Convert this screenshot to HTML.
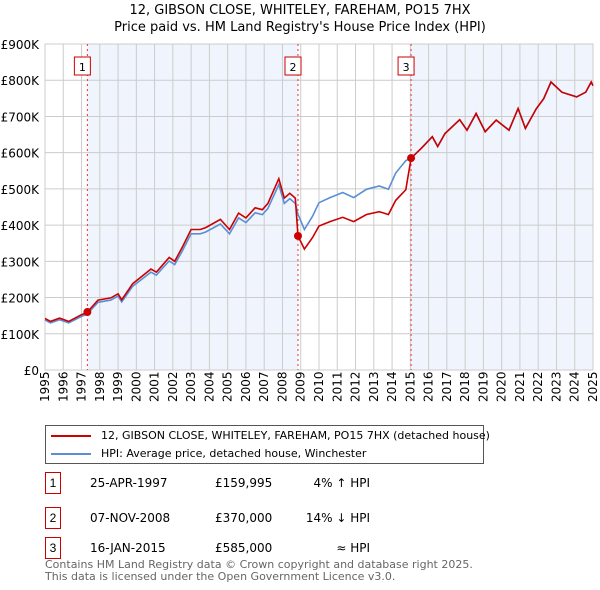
<!DOCTYPE html>
<html><head><meta charset="utf-8"><style>
body{margin:0;background:#fff;font-family:"Liberation Sans","DejaVu Sans",sans-serif;}
#wrap{position:relative;width:600px;height:590px;overflow:hidden;}
svg text{font-family:"DejaVu Sans","Liberation Sans",sans-serif;}
.row{position:absolute;left:45px;font-size:12px;color:#000;font-family:"DejaVu Sans",sans-serif;}
.num{position:absolute;left:45px;width:14px;height:20px;border:1px solid #c00;text-align:center;line-height:20px;font-size:12px;}
</style></head><body>
<div id="wrap">
<svg id="chart" width="600" height="420" style="position:absolute;left:0;top:0">
<text x="300" y="14" text-anchor="middle" font-size="13">12, GIBSON CLOSE, WHITELEY, FAREHAM, PO15 7HX</text>
<text x="300" y="31" text-anchor="middle" font-size="13">Price paid vs. HM Land Registry's House Price Index (HPI)</text>
<g id="g"></g>
</svg>
<div style="position:absolute;left:45px;top:425px;width:437px;height:37px;border:1px solid #555;font-family:'DejaVu Sans',sans-serif;font-size:11px;">
<div style="position:absolute;left:5px;top:3px;white-space:nowrap"><span style="display:inline-block;width:40px;height:2px;background:#c00;vertical-align:middle;margin-right:10px"></span>12, GIBSON CLOSE, WHITELEY, FAREHAM, PO15 7HX (detached house)</div>
<div style="position:absolute;left:5px;top:21px;white-space:nowrap"><span style="display:inline-block;width:40px;height:2px;background:#5b8fd4;vertical-align:middle;margin-right:10px"></span>HPI: Average price, detached house, Winchester</div>
</div>
<div id="tbl"></div>
<div style="position:absolute;left:45px;top:559px;font-size:11px;color:#666;line-height:12px;font-family:'DejaVu Sans',sans-serif">Contains HM Land Registry data © Crown copyright and database right 2025.<br>This data is licensed under the Open Government Licence v3.0.</div>
</div>
<script>
const hpiYears=[1995,1995.3,1995.8,1996.3,1997,1997.3,1997.9,1998.6,1999,1999.2,1999.8,2000.8,2001.1,2001.4,2001.8,2002.1,2002.5,2003,2003.5,2003.8,2004.6,2005.1,2005.6,2006,2006.5,2006.9,2007.2,2007.8,2008.1,2008.4,2008.7,2008.85,2009.2,2009.65,2010,2010.6,2011.3,2011.9,2012.6,2013.3,2013.8,2014.2,2014.75,2015.04,2015.6,2016.2,2016.5,2016.9,2017.7,2018.1,2018.6,2019.1,2019.7,2020.4,2020.9,2021.3,2021.9,2022.3,2022.7,2023.3,2024.1,2024.6,2024.9,2025];
const hpiValues=[138,130,139,130,148,154,187,193,204,188,231,270,262,279,301,291,327,376,376,381,403,376,420,407,434,429,446,512,460,473,460,430,388,425,462,476,490,476,499,508,499,544,578,585,612,644,617,653,691,662,708,658,690,662,722,667,722,749,795,767,754,767,795,785];
const saleYears=[1997.32,2008.85,2015.04];
const salePrices=[159995,370000,585000];
const saleDates=["25-APR-1997","07-NOV-2008","16-JAN-2015"];
const saleLabels=["£159,995","£370,000","£585,000"];
const saleRel=["4% ↑ HPI","14% ↓ HPI","≈ HPI"];
const yTicks=[0,100,200,300,400,500,600,700,800,900];
const yLabels=["£0","£100K","£200K","£300K","£400K","£500K","£600K","£700K","£800K","£900K"];
const L=45,R=593,T=44,B=370;
const X=y=>L+(y-1995)/30*(R-L);
const Y=v=>B-v/900*(B-T);
const g=document.getElementById('g');
const NS='http://www.w3.org/2000/svg';
function mk(t,a){const e=document.createElementNS(NS,t);for(const k in a)e.setAttribute(k,a[k]);g.appendChild(e);return e;}
function hpiAt(y){for(let i=1;i<hpiYears.length;i++){if(y<=hpiYears[i]){const t=(y-hpiYears[i-1])/(hpiYears[i]-hpiYears[i-1]);return hpiValues[i-1]+t*(hpiValues[i]-hpiValues[i-1]);}}return hpiValues[hpiValues.length-1];}
// shading
const sh=[[saleYears[0],saleYears[1]],[saleYears[2],2025]];
sh.forEach((s,i)=>{const r=mk('rect',{x:X(s[0]),y:T,width:X(s[1])-X(s[0]),height:B-T,fill:'#f0f4fc'});

});
// grid
for(let yr=1995;yr<=2025;yr++){const l=mk('line',{x1:X(yr),x2:X(yr),y1:T,y2:B,stroke:'#ccc','stroke-width':1});


const t=mk('text',{x:0,y:0,'font-size':12,transform:`translate(${X(yr)+4},${B+32}) rotate(-90)`});t.textContent=yr;

}
yTicks.forEach((v,i)=>{const l=mk('line',{x1:L,x2:R,y1:Y(v),y2:Y(v),stroke:'#ccc','stroke-width':1});


const t=mk('text',{x:L-6,y:Y(v)+5,'font-size':12,'text-anchor':'end'});t.textContent=yLabels[i];

});
const fr=mk('rect',{x:L,y:T,width:R-L,height:B-T,fill:'none',stroke:'#ccc'});


// sale lines & markers
saleYears.forEach((s,i)=>{const l=mk('line',{x1:X(s),x2:X(s),y1:T,y2:B,stroke:'#e33','stroke-width':1,'stroke-dasharray':'2,3'});


const r=mk('rect',{x:X(s)-13,y:T+13,width:16,height:18,fill:'#fff',stroke:'#c00'});


const t=mk('text',{x:X(s)-5,y:T+27,'font-size':11,'text-anchor':'middle'});t.textContent=i+1;

});
// hpi line
let d='';hpiYears.forEach((y,i)=>{d+=(i?'L':'M')+X(y).toFixed(1)+','+Y(hpiValues[i]).toFixed(1);});
const hp=mk('path',{d,fill:'none',stroke:'#5b8fd4','stroke-width':1.6});


// property line: hpi scaled by ratio of latest sale
let pd='';
hpiYears.forEach((y,i)=>{let k=0;for(let j=0;j<saleYears.length;j++)if(y>=saleYears[j])k=j;
const f=salePrices[k]/1000/hpiAt(saleYears[k]);pd+=(i?'L':'M')+X(y).toFixed(1)+','+Y(hpiValues[i]*f).toFixed(1);
if(k+1<saleYears.length&&i+1<hpiYears.length&&hpiYears[i+1]>saleYears[k+1]){const s=saleYears[k+1];pd+='L'+X(s).toFixed(1)+','+Y(hpiAt(s)*f).toFixed(1)+'L'+X(s).toFixed(1)+','+Y(salePrices[k+1]/1000).toFixed(1);}});
const pp=mk('path',{d:pd,fill:'none',stroke:'#c00','stroke-width':1.6});


saleYears.forEach((s,i)=>{const c=mk('circle',{cx:X(s),cy:Y(salePrices[i]/1000),r:4,fill:'#c00'});

});
// table
const tb=document.getElementById('tbl');
const tops=[472,507,537];
saleYears.forEach((s,i)=>{const n=document.createElement('div');n.className='num';n.style.top=tops[i]+'px';n.textContent=i+1;

tb.appendChild(n);
const cells=[[saleDates[i],90],[saleLabels[i],215],[saleRel[i],300]];
cells.forEach((c,j)=>{const e=document.createElement('div');e.className='row';e.style.top=(tops[i]+4)+'px';
if(j==2){e.style.left='270px';e.style.width='100px';e.style.textAlign='right';}else e.style.left=c[1]+'px';
e.textContent=c[0];

tb.appendChild(e);});});
</script>
</body></html>
